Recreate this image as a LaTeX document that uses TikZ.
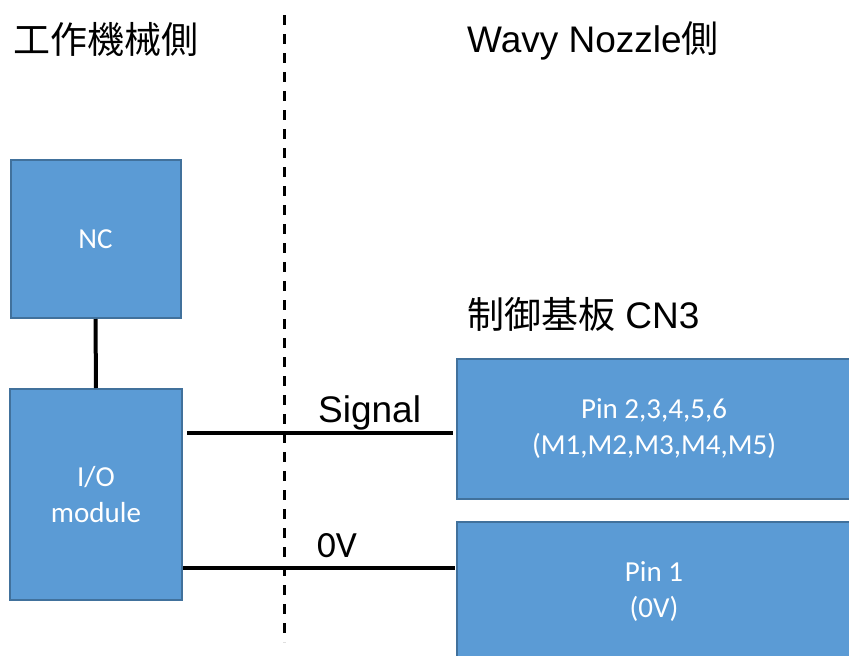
\documentclass[tikz,border=0pt]{standalone}
\usepackage{fontspec}
\setmainfont{Liberation Sans}
\newfontfamily\cjk{Noto Sans CJK JP}
\newfontfamily\carlito{Carlito}
\definecolor{boxfill}{HTML}{5B9BD5}
\definecolor{boxline}{HTML}{41719C}
\begin{document}
\begin{tikzpicture}[x=1pt,y=-1pt,
  box/.style={draw=boxline, line width=2pt, fill=boxfill, text=white,
    font=\carlito\fontsize{29}{36}\selectfont, align=center, inner sep=0pt},
  wire/.style={line width=4pt, black},
  divider/.style={line width=3pt, black, dash pattern=on 10pt off 9pt},
  title/.style={anchor=base west, inner sep=0pt, font=\fontsize{37}{44}\selectfont}]
\useasboundingbox (0,0) rectangle (849,656);
% boxes
\node[box, minimum width=170pt, minimum height=158pt] (nc) at (95.5,239) {NC};
\node[box, minimum width=172pt, minimum height=211pt] (io) at (96,494.5) {I/O\\module};
\node[box, minimum width=394pt, minimum height=140pt] (pin2) at (654,429) {Pin 2,3,4,5,6\\(M1,M2,M3,M4,M5)};
\node[box, minimum width=394pt, minimum height=140pt] (pin1) at (654,592) {Pin 1\\(0V)};
% divider
\coordinate (dtop) at (284,15);
\coordinate (dbot) at (284,642);
\draw[divider] (dtop) -- (dbot);
% connectors
\coordinate (sigy) at (0,433);
\coordinate (zvy) at (0,568);
\draw[wire] (nc.south) -- (io.north);
\draw[wire, shorten <=4pt, shorten >=3pt] (io.east |- sigy) -- (pin2.west |- sigy);
\draw[wire, shorten >=1pt] (io.east |- zvy) -- (pin1.west |- zvy);
% labels
\node[title] (lside) at (13,53) {\cjk 工作機械側};
\node[title] (rside) at (467,52) {Wavy Nozzle{\cjk 側}};
\node[title] (board) at (467,328) {{\cjk 制御基板} CN3};
\node[title] (siglbl) at (318,422) {Signal};
\node[title, font=\carlito\fontsize{37}{44}\selectfont] (zvlbl) at (317,557) {0V};
\end{tikzpicture}
\end{document}
